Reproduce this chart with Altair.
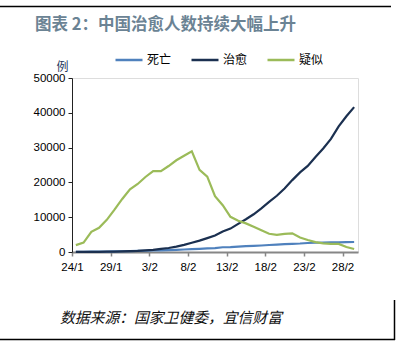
import altair as alt
import pandas as pd

dates = ["24/1", "25/1", "26/1", "27/1", "28/1", "29/1", "30/1", "31/1",
         "1/2", "2/2", "3/2", "4/2", "5/2", "6/2", "7/2", "8/2", "9/2", "10/2",
         "11/2", "12/2", "13/2", "14/2", "15/2", "16/2", "17/2", "18/2", "19/2",
         "20/2", "21/2", "22/2", "23/2", "24/2", "25/2", "26/2", "27/2", "28/2", "29/2"]
deaths = [41, 56, 80, 106, 132, 170, 213, 259, 304, 361, 425, 490, 563, 636, 722,
          811, 908, 1016, 1113, 1367, 1380, 1523, 1665, 1770, 1868, 2004, 2118,
          2236, 2345, 2442, 2592, 2663, 2715, 2744, 2788, 2835, 2870]
cured = [38, 49, 51, 60, 103, 124, 171, 243, 328, 475, 632, 892, 1153, 1540, 2050,
         2649, 3281, 3996, 4740, 5911, 6723, 8096, 9419, 10844, 12552, 14376, 16155,
         18264, 20659, 22888, 24734, 27323, 29745, 32495, 36117, 39002, 41625]
suspected = [1965, 2684, 5794, 6973, 9239, 12167, 15238, 17988, 19544, 21558, 23214,
             23260, 24702, 26359, 27657, 28942, 23589, 21675, 16067, 13435, 10109,
             8969, 8228, 7264, 6242, 5248, 4922, 5206, 5365, 4148, 3434, 2824, 2491,
             2358, 2308, 1418, 851]
series_names = ["死亡", "治愈", "疑似"]
series_colors = ["#4f81bd", "#1b3050", "#9bbb59"]
y_ticks = [0, 10000, 20000, 30000, 40000, 50000]
x_tick_idx = [0, 5, 10, 15, 20, 25, 30, 35]

rows = []
for name, vals in zip(series_names, [deaths, cured, suspected]):
    for i, v in enumerate(vals):
        rows.append({"idx": i, "date": dates[i], "series": name, "value": v,
                     "order": series_names.index(name)})
df = pd.DataFrame(rows)

label_map = "{" + ",".join(f"'{i}':'{dates[i]}'" for i in x_tick_idx) + "}"

W, H = 286, 174
L, T = 72, 78

lines = alt.Chart(df).mark_line(strokeWidth=2.2).encode(
    x=alt.X("idx:Q", scale=alt.Scale(domain=[-0.5, len(dates) - 0.5], nice=False, zero=False),
            axis=alt.Axis(values=x_tick_idx, labelExpr=f"{label_map}[''+datum.value]",
                          title=None, grid=False, domainColor="#868686", domainWidth=2,
                          tickColor="#868686", tickWidth=1.5, tickSize=4, tickOffset=-3.87,
                          labelFont="Liberation Sans", labelFontSize=11.5, labelColor="#000",
                          labelPadding=5)),
    y=alt.Y("value:Q", scale=alt.Scale(domain=[0, 50000], nice=False),
            axis=alt.Axis(values=y_ticks, format="d", title="例", titleAngle=0,
                          titleX=-10, titleY=-12, titleAlign="center", titleBaseline="middle",
                          titleFont="Noto Sans CJK SC", titleFontSize=12, titleFontWeight="normal",
                          titleColor="#1f3a5f", grid=False, domainColor="#222", domainWidth=1,
                          tickColor="#222", tickSize=4, labelFont="Liberation Sans",
                          labelFontSize=11.5, labelColor="#000", labelPadding=3)),
    color=alt.Color("series:N", scale=alt.Scale(domain=series_names, range=series_colors),
                    legend=alt.Legend(orient="none", legendX=42, legendY=-33, direction="horizontal",
                                      title=None, symbolType="stroke", symbolSize=729,
                                      symbolStrokeWidth=2.5, labelFont="Noto Sans CJK SC",
                                      labelFontSize=12, labelColor="#000", labelOffset=3,
                                      columnPadding=14)),
    order="order:Q",
    detail="series:N",
)

one = pd.DataFrame([{"k": 0}])

title = alt.Chart(one).mark_text(align="left", baseline="middle", font="Noto Sans CJK SC",
                                 fontSize=16.5, fontWeight="bold", color="#6b8394").encode(
    x=alt.value(35 - L), y=alt.value(25 - T), text=alt.value("图表 2：中国治愈人数持续大幅上升"))

source = alt.Chart(one).mark_text(align="left", baseline="middle", font="Noto Sans CJK SC",
                                  fontSize=14.8, fontStyle="italic", color="#111").encode(
    x=alt.value(60 - L), y=alt.value(319 - T), text=alt.value("数据来源：国家卫健委，宜信财富"))

top_rule = alt.Chart(one).mark_rule(color="#000", strokeWidth=1.5).encode(
    x=alt.value(0 - L), x2=alt.value(391 - L), y=alt.value(6.5 - T))
bottom_rule = alt.Chart(one).mark_rule(color="#000", strokeWidth=1.5).encode(
    x=alt.value(0 - L), x2=alt.value(395 - L), y=alt.value(339.5 - T))
right_rule = alt.Chart(one).mark_rule(color="#000", strokeWidth=1.5).encode(
    x=alt.value(394.5 - L), y=alt.value(300 - T), y2=alt.value(340 - T))

chart = alt.layer(lines, title, source, top_rule, bottom_rule, right_rule).properties(
    width=W, height=H,
    autosize=alt.AutoSizeParams(type="none"),
    padding={"left": L, "top": T, "right": 401 - L - W, "bottom": 351 - T - H},
).configure_view(stroke=None).configure(background="white")

chart.save("out.html", embed_options={"renderer": "svg", "actions": False})
